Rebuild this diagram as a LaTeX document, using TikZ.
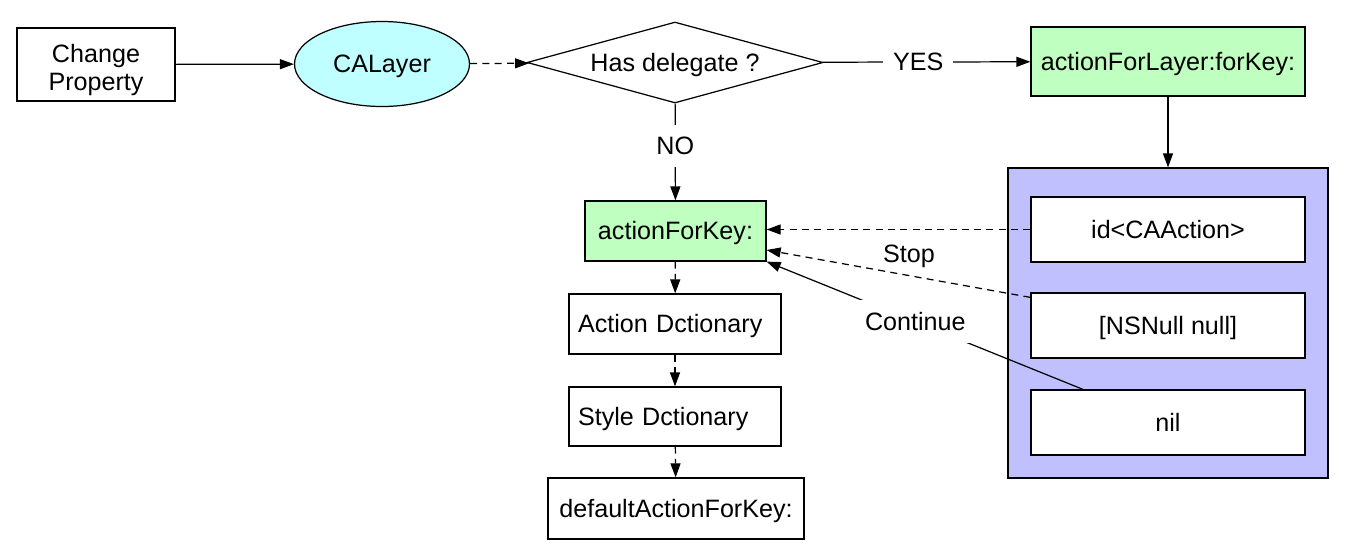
\documentclass[tikz,border=0pt]{standalone}
\usepackage{fontspec}
\setmainfont{Liberation Sans}
\usetikzlibrary{shapes.geometric,arrows.meta}
\definecolor{lcyan}{RGB}{191,255,255}
\definecolor{lgreen}{RGB}{191,255,191}
\definecolor{lpurple}{RGB}{192,192,255}

\begin{document}
\begin{tikzpicture}[
	 every node/.style = {font = \fontsize{14.3}{16}\selectfont, text height = 1em, text depth = 0pt},
	 box/.style = {draw, line width = 0.7pt, rectangle, inner sep = 0pt, align = center},
	 tip/.style = {-{Triangle[length = 2.8mm, width = 2mm]}, line width = 0.7pt},
	 dashtip/.style = {tip, dash pattern = on 4pt off 3pt},
	 lbl/.style = {fill = white, inner xsep = 0.2cm, inner ysep = 0.25cm}]
	 \useasboundingbox (0, 0) rectangle (27.08, -10.96);

	 % top row
	 \node[box, text height = 30pt, minimum width = 3.16cm, minimum height = 1.46cm] (chg) at (1.92, -1.29) {Change\\Property};
	 \node[draw, ellipse, fill = lcyan, line width = 0.7pt, inner sep = 0pt, minimum width = 3.5cm, minimum height = 1.7cm] (layer) at (7.64, -1.28) {CALayer};
	 \node[draw, diamond, line width = 0.7pt, aspect = 3.65, inner sep = 0pt, minimum width = 5.92cm, minimum height = 1.62cm] (deleg) at (13.5, -1.25) {Has delegate ?};
	 \node[box, fill = lgreen, minimum width = 5.48cm, minimum height = 1.38cm] (afl) at (23.36, -1.23) {actionForLayer:forKey:};

	 % return values of the delegate
	 \node[box, fill = lpurple, minimum width = 6.4cm, minimum height = 6.2cm] (grp) at (23.36, -6.46) {};
	 \node[box, fill = white, minimum width = 5.48cm, minimum height = 1.3cm] (ida) at (23.36, -4.59) {id<CAAction>};
	 \node[box, fill = white, minimum width = 5.48cm, minimum height = 1.3cm] (nsn) at (23.36, -6.51) {[NSNull null]};
	 \node[box, fill = white, minimum width = 5.48cm, minimum height = 1.3cm] (nil) at (23.36, -8.45) {nil};

	 % search column
	 \node[box, fill = lgreen, minimum width = 3.62cm, minimum height = 1.2cm] (afk) at (13.51, -4.62) {actionForKey:};
	 \node[box, align = left, inner xsep = 0.18cm, text width = 3.88cm, minimum height = 1.2cm] (adict) at (13.5, -6.48) {Action Dctionary};
	 \node[box, align = left, inner xsep = 0.18cm, text width = 3.88cm, minimum height = 1.18cm] (sdict) at (13.5, -8.33) {Style Dctionary};
	 \node[box, minimum width = 5.12cm, minimum height = 1.22cm] (dflt) at (13.52, -10.17) {defaultActionForKey:};

	 \draw[tip] (chg) -- (layer);
	 \draw[dashtip] (layer) -- (deleg);
	 \draw[tip] (deleg) -- node[lbl, pos = 0.46] (yes) {YES} (afl);
	 \draw[tip] (afl) -- (grp);
	 \draw[tip] (deleg) -- node[lbl, pos = 0.44] (no) {NO} (afk);

	 \draw[dashtip] (ida.west) -- (ida.west -| afk.east);
	 \draw[dashtip] ([yshift = -0.1cm]nsn.north west) -- node[pos = 0.46, yshift = 0.44cm] (stop) {Stop} ([yshift = -0.38cm]afk.east);
	 \draw[tip] ([xshift = -1.7cm]nil.north) -- node[lbl, pos = 0.53] (cont) {Continue} (afk.south east);

	 \foreach \a/\b in {afk/adict, adict/sdict, sdict/dflt}
	 \draw[dashtip] (\a) -- (\b);
\end{tikzpicture}
\end{document}
